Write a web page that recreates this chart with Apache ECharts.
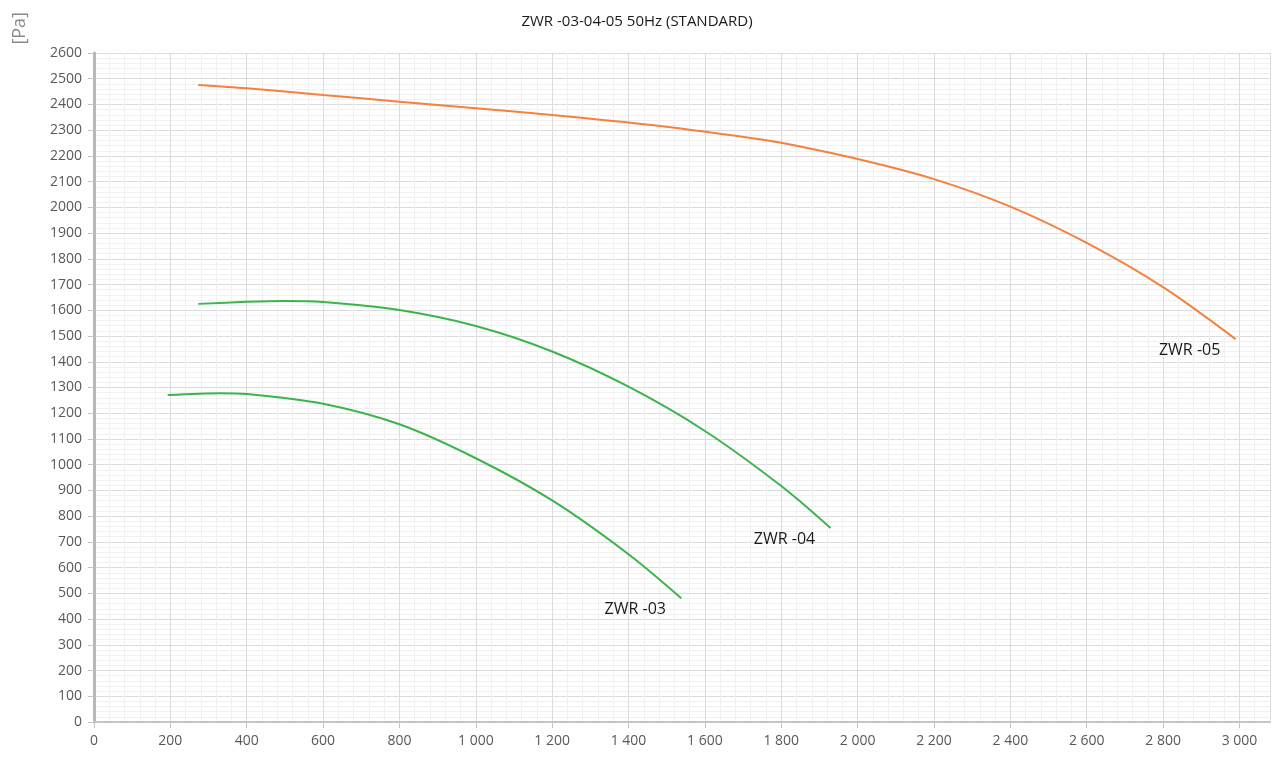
<!DOCTYPE html>
<html>
<head>
<meta charset="utf-8">
<title>ZWR -03-04-05 50Hz</title>
<script src="https://cdn.jsdelivr.net/npm/echarts@6/dist/echarts.min.js"></script>
<style>
  html, body { margin: 0; padding: 0; background: #fff; }
  #chart { width: 1274px; height: 757px; }
</style>
</head>
<body>
<div id="chart"></div>
<script>
// curve data: air flow (x) vs pressure [Pa] (y)
var zwr03X = [193, 330, 400, 600, 800, 1000, 1200, 1400, 1538];
var zwr03Y = [1271, 1278, 1275, 1237, 1157, 1025, 861, 652, 481];

var zwr04X = [273, 400, 500, 600, 800, 1000, 1200, 1400, 1600, 1800, 1929];
var zwr04Y = [1625, 1633, 1636, 1632, 1601, 1539, 1440, 1303, 1131, 917, 754];

var zwr05X = [273, 400, 600, 800, 1000, 1200, 1460, 1720, 1800, 2000, 2200, 2400, 2600, 2800, 2990];
var zwr05Y = [2476, 2463, 2437, 2411, 2385, 2359, 2320, 2270, 2251, 2188, 2110, 2003, 1862, 1690, 1488];

var seriesNames = ['ZWR -03', 'ZWR -04', 'ZWR -05'];
var seriesColors = ['#3cb44b', '#3cb44b', '#f5813f'];

var chart = echarts.init(document.getElementById('chart'));

function pairs(xs, ys) {
  var out = [];
  for (var i = 0; i < xs.length; i++) {
    out.push([xs[i], ys[i]]);
  }
  return out;
}

function curve(name, xs, ys, color) {
  var last = xs.length - 1;
  return {
    name: name,
    type: 'line',
    smooth: 0.3,
    showSymbol: false,
    symbol: 'none',
    data: pairs(xs, ys),
    lineStyle: { color: color, width: 2 },
    markPoint: {
      symbol: 'circle',
      symbolSize: 0,
      silent: true,
      data: [{ coord: [xs[last], ys[last]] }],
      label: {
        show: true,
        formatter: name,
        position: 'inside',
        offset: [-46, 11],
        color: '#1a1a1a',
        fontSize: 16,
        fontFamily: 'Open Sans'
      }
    }
  };
}

var axisLabelColor = '#595959';

chart.setOption({
  animation: false,
  backgroundColor: '#ffffff',
  textStyle: { fontFamily: 'Open Sans' },
  title: {
    text: 'ZWR -03-04-05 50Hz (STANDARD)',
    left: 'center',
    top: 9,
    textStyle: { fontSize: 15, fontWeight: 'normal', color: '#1a1a1a', fontFamily: 'Open Sans' }
  },
  grid: { left: 94, right: 4, top: 53, bottom: 35 },
  graphic: [{
    type: 'text',
    left: 11,
    top: 12,
    rotation: Math.PI / 2,
    style: { text: '[Pa]', fontSize: 18, fill: '#8a8a8a', fontFamily: 'Open Sans' }
  }],
  xAxis: {
    type: 'value',
    min: 0,
    max: 3080,
    interval: 200,
    axisLine: { show: true, onZero: false, lineStyle: { color: '#c4c4c4', width: 2 } },
    axisTick: { show: true, length: 6, lineStyle: { color: '#c4c4c4' } },
    axisLabel: {
      color: axisLabelColor,
      fontSize: 14,
      margin: 12,
      showMaxLabel: false,
      formatter: function (v) {
        if (v % 200 !== 0) return '';
        return String(v).replace(/\B(?=(\d{3})+(?!\d))/g, ' ');
      }
    },
    splitLine: { show: true, lineStyle: { color: '#dcdcdc' } },
    minorTick: { show: false, splitNumber: 5 },
    minorSplitLine: { show: true, lineStyle: { color: '#f0f0f0' } }
  },
  yAxis: {
    type: 'value',
    min: 0,
    max: 2600,
    interval: 100,
    axisLine: { show: true, lineStyle: { color: '#b8b8b8', width: 3 } },
    axisTick: { show: true, length: 6, lineStyle: { color: '#c4c4c4' } },
    axisLabel: {
      color: axisLabelColor,
      fontSize: 14,
      margin: 12,
      formatter: function (v) { return String(v); }
    },
    splitLine: { show: true, lineStyle: { color: '#dcdcdc' } },
    minorTick: { show: false, splitNumber: 5 },
    minorSplitLine: { show: true, lineStyle: { color: '#f0f0f0' } }
  },
  series: [
    curve(seriesNames[0], zwr03X, zwr03Y, seriesColors[0]),
    curve(seriesNames[1], zwr04X, zwr04Y, seriesColors[1]),
    curve(seriesNames[2], zwr05X, zwr05Y, seriesColors[2])
  ]
});
</script>
</body>
</html>
